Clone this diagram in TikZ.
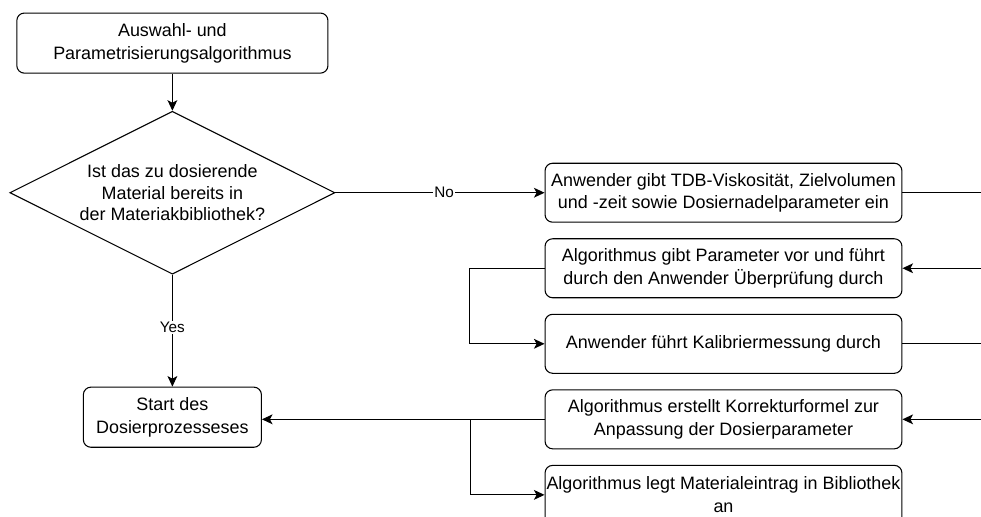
\documentclass[tikz,border=0pt]{standalone}
\usepackage{fontspec}
\setmainfont{Liberation Sans}
\usetikzlibrary{shapes.geometric, arrows.meta, positioning}

\begin{document}
\begin{tikzpicture}[
    node distance=0.41cm,
    box/.style={rectangle, draw, line width=0.8pt, rounded corners=0.2cm, minimum width=9.44cm, minimum height=1.56cm, inner sep=0pt, align=center, font=\fontsize{13.5}{17}\selectfont},
    decision/.style={diamond, draw, line width=0.8pt, aspect=2, minimum width=8.6cm, minimum height=4.31cm, inner sep=0pt, align=center, font=\fontsize{13.5}{16}\selectfont},
    arrow/.style={-{Stealth[length=2.8mm, width=2.6mm, inset=0.7mm]}, line width=0.8pt},
    line/.style={line width=0.8pt},
    edgelabel/.style={fill=white, inner sep=1pt, font=\fontsize{11.5}{14}\selectfont}
]
    \useasboundingbox (-4.56,1.14) rectangle (21.39,-12.52);
    \coordinate (redge) at (21.39,0);

    % Left column
    \node[box, minimum width=8.23cm, minimum height=1.59cm] (algo) {Auswahl- und\\Parametrisierungsalgorithmus};
    \node[decision, below=0.98cm of algo] (decision) {Ist das zu dosierende\\Material bereits in\\der Materiakbibliothek?};
    \node[box, minimum width=4.71cm, minimum height=1.59cm, below=2.96cm of decision] (start) {Start des\\Dosierprozesseses};

    % Right column
    \node[box, right=5.53cm of decision] (input) {Anwender gibt TDB-Viskosität, Zielvolumen\\und -zeit sowie Dosiernadelparameter ein};
    \node[box, below=of input] (check) {Algorithmus gibt Parameter vor und führt\\durch den Anwender Überprüfung durch};
    \node[box, below=of check] (calib) {Anwender führt Kalibriermessung durch};
    \node[box, below=of calib] (formula) {Algorithmus erstellt Korrekturformel zur\\Anpassung der Dosierparameter};
    \node[box, below=of formula] (entry) {Algorithmus legt Materialeintrag in Bibliothek\\an};

    % Arrows
    \draw[arrow] (algo) -- (decision);
    \draw[arrow] (decision) -- node[edgelabel, pos=0.47] {Yes} (start);
    \draw[arrow] (decision) -- node[edgelabel, pos=0.52] {No} (input);

    % Lines to the right border
    \draw[line] (input.east) -- (input.east -| redge);
    \draw[arrow] (check.east -| redge) -- (check.east);
    \draw[line] (calib.east) -- (calib.east -| redge);
    \draw[arrow] (formula.east -| redge) -- (formula.east);

    % Branches
    \draw[arrow] (check.west) -- ++(-1.98,0) |- (calib.west);
    \draw[arrow] (formula.west) -- (formula.west -| start.east);
    \coordinate[left=1.96cm of formula.west] (split);
    \draw[arrow] (split) |- (entry.west);
\end{tikzpicture}
\end{document}
